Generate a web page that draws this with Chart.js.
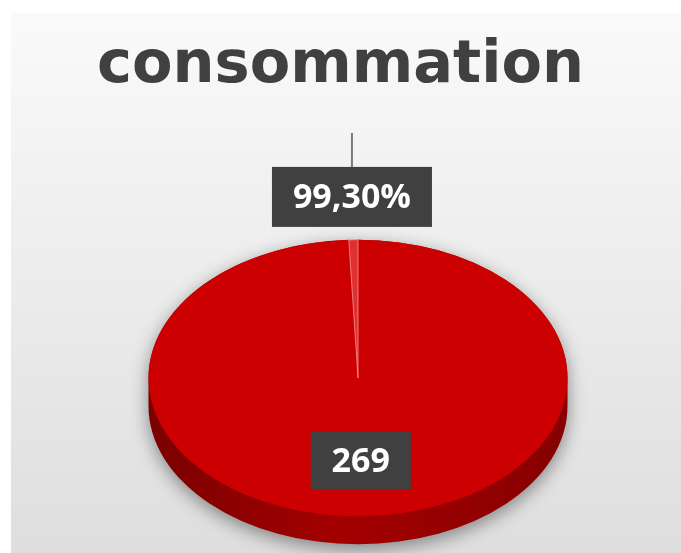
<!DOCTYPE html>
<html>
<head>
<meta charset="utf-8">
<script src="https://cdn.jsdelivr.net/npm/chart.js@4.4.0/dist/chart.umd.min.js"></script>
<style>
  html, body { margin: 0; padding: 0; background: #fff; }
  #wrap { width: 681px; height: 553px; }
</style>
</head>
<body>
<div id="wrap"><canvas id="pie"></canvas></div>
<script>
const categories = ['consommé', 'restant'];
const values = [269, 1.9];
const sliceColors = ['#cc0000', '#de3030'];
const titleText = 'consommation';

const total = values.reduce((a, b) => a + b, 0);
const pctText = (values[0] / total * 100).toFixed(2).replace('.', ',') + '%';

// grey gradient panel behind everything
const panel = {
  id: 'panel',
  beforeDraw(chart) {
    const { ctx, width, height } = chart;
    ctx.save();
    ctx.fillStyle = '#fff';
    ctx.fillRect(0, 0, width, height);
    const g = ctx.createLinearGradient(0, 13, 0, height);
    g.addColorStop(0, '#fafafa');
    g.addColorStop(1, '#dedede');
    ctx.fillStyle = g;
    ctx.fillRect(11, 13, width - 11, height - 13);
    ctx.restore();
  }
};

// squash the pie into an ellipse and give it a side wall
const tilt = {
  id: 'tilt',
  beforeDatasetsDraw(chart, args, opts) {
    const arc = chart.getDatasetMeta(0).data[0];
    const ctx = chart.ctx;
    const r = arc.outerRadius;
    const cx = opts.cx, cy = opts.cy, ry = r * opts.squash, d = opts.depth;

    ctx.save();
    ctx.shadowColor = 'rgba(0,0,0,0.42)';
    ctx.shadowBlur = 18;
    ctx.shadowOffsetY = 5;
    const g = ctx.createLinearGradient(cx - r, 0, cx + r, 0);
    g.addColorStop(0, '#7a0000');
    g.addColorStop(0.45, '#a40000');
    g.addColorStop(1, '#860000');
    ctx.fillStyle = g;
    ctx.beginPath();
    ctx.ellipse(cx, cy + d, r, ry, 0, 0, Math.PI * 2);
    ctx.rect(cx - r, cy, r * 2, d);
    ctx.ellipse(cx, cy, r, ry, 0, 0, Math.PI * 2);
    ctx.fill();
    ctx.restore();

    ctx.save();
    ctx.translate(cx, cy);
    ctx.scale(1, opts.squash);
    ctx.translate(-arc.x, -arc.y);
  },
  afterDatasetsDraw(chart) {
    chart.ctx.restore();
  }
};

function labelBox(ctx, text, x, y, w, h) {
  ctx.fillStyle = '#404040';
  ctx.fillRect(x - w / 2, y - h / 2, w, h);
  ctx.fillStyle = '#fff';
  ctx.font = 'bold 34px "Open Sans"';
  ctx.textAlign = 'center';
  ctx.textBaseline = 'middle';
  ctx.fillText(text, x, y + 1);
}

// value and percentage labels placed from the arc geometry
const sliceLabels = {
  id: 'sliceLabels',
  afterDatasetsDraw(chart) {
    const opts = chart.options.plugins.tilt;
    const ctx = chart.ctx;
    const arcs = chart.getDatasetMeta(0).data;
    const toScreen = (arc, f) => {
      const a = (arc.startAngle + arc.endAngle) / 2;
      return {
        x: opts.cx + Math.cos(a) * arc.outerRadius * f,
        y: opts.cy + Math.sin(a) * arc.outerRadius * f * opts.squash
      };
    };
    ctx.save();
    const p0 = toScreen(arcs[0], 0.6);
    labelBox(ctx, String(values[0]), p0.x, p0.y, 100, 58);

    const p1 = toScreen(arcs[1], 1.31);
    ctx.strokeStyle = '#7a7a7a';
    ctx.lineWidth = 2;
    ctx.beginPath();
    ctx.moveTo(p1.x, p1.y - 29);
    ctx.lineTo(p1.x, p1.y - 64);
    ctx.stroke();
    labelBox(ctx, pctText, p1.x, p1.y, 160, 60);
    ctx.restore();
  }
};

new Chart(document.getElementById('pie'), {
  type: 'pie',
  data: {
    labels: categories,
    datasets: [{
      data: values,
      backgroundColor: sliceColors,
      borderColor: ['#cc0000', 'rgba(255,180,180,0.75)'],
      borderWidth: [0, 1],
      clip: false
    }]
  },
  options: {
    responsive: true,
    maintainAspectRatio: false,
    animation: false,
    events: [],
    layout: { padding: 0 },
    plugins: {
      legend: { display: false },
      tooltip: { enabled: false },
      title: {
        display: true,
        text: titleText,
        color: '#404040',
        font: { family: '"DejaVu Sans"', size: 59, weight: 'bold' },
        padding: { top: 31, bottom: 31.2 }
      },
      tilt: { cx: 358, cy: 378, squash: 0.66, depth: 28 }
    }
  },
  plugins: [panel, tilt, sliceLabels]
});
</script>
</body>
</html>
